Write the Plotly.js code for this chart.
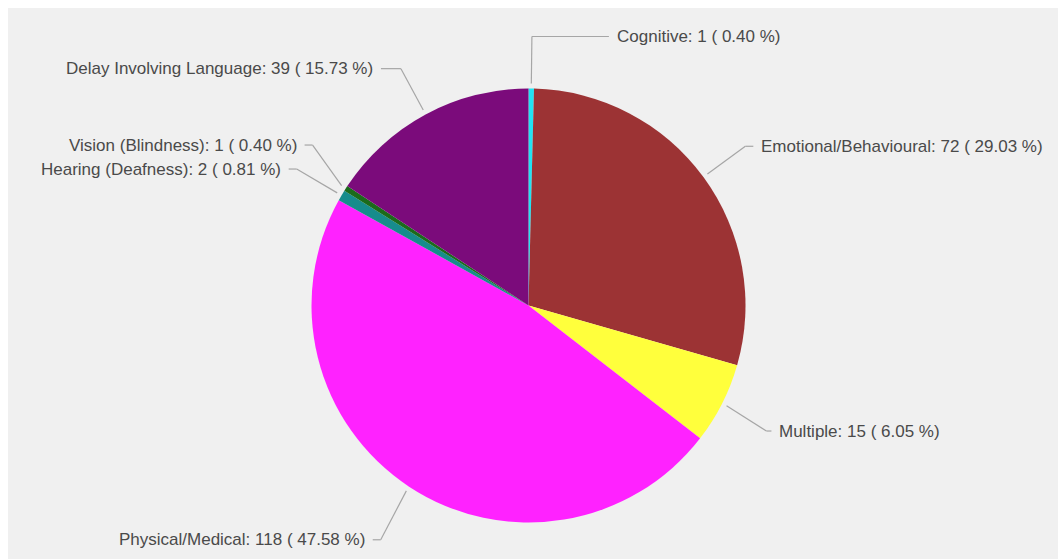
<!DOCTYPE html>
<html>
<head>
<meta charset="utf-8">
<script src="https://cdn.plot.ly/plotly-3.0.1.min.js"></script>
<style>
  html, body { margin: 0; padding: 0; background: #ffffff; }
  #chart { position: absolute; left: 8px; top: 8px; width: 1050px; height: 551px; }
</style>
</head>
<body>
<div id="chart"></div>
<script>
// ---- data ----
const categories = [
  "Cognitive",
  "Emotional/Behavioural",
  "Multiple",
  "Physical/Medical",
  "Hearing (Deafness)",
  "Vision (Blindness)",
  "Delay Involving Language"
];
const values = [1, 72, 15, 118, 2, 1, 39];
const sliceColors = ["#22e3f2", "#9c3334", "#ffff3c", "#ff22ff", "#178c8c", "#1b6b1b", "#7b0b7b"];

// ---- layout config (label leader lines) ----
const W = 1050, H = 551;
const CX = 520.5, CY = 297.5, R = 217;   // pie centre / radius in div pixels
const stubLen = { "Cognitive": 77, "Delay Involving Language": 20, "Multiple": 5 };
const yShift = { "Physical/Medical": 3, "Multiple": 4 };
const elbowR = { "Physical/Medical": 277 };
const defaultStub = 8, textGap = 6, rStart = R + 5, rElbow = 269, minGap = 24;

const total = values.reduce((a, b) => a + b, 0);
const px = x => x / W;
const py = y => 1 - y / H;

// compute label geometry from data
let cum = 0;
const labels = values.map((v, i) => {
  const mid = (cum + v / 2) / total * 2 * Math.PI;
  cum += v;
  const s = Math.sin(mid), c = Math.cos(mid);
  const pct = (v / total * 100).toFixed(2);
  const side = s >= 0 ? 1 : -1;
  const re = elbowR[categories[i]] || rElbow;
  return {
    i, side, re,
    x0: CX + rStart * s, y0: CY - rStart * c,
    ey: CY - re * c + (yShift[categories[i]] || 0),
    text: categories[i] + ": " + v + " ( " + pct + " %)"
  };
});

// resolve overlaps
const left = labels.filter(l => l.side < 0).sort((a, b) => b.ey - a.ey);
for (let k = 1; k < left.length; k++) {
  if (left[k].ey > left[k - 1].ey - minGap) left[k].ey = left[k - 1].ey - minGap;
}
const right = labels.filter(l => l.side > 0).sort((a, b) => a.ey - b.ey);
for (let k = 1; k < right.length; k++) {
  if (right[k].ey < right[k - 1].ey + minGap) right[k].ey = right[k - 1].ey + minGap;
}

const shapes = [];
const annotations = [];
labels.forEach(l => {
  const dy = l.ey - CY;
  const ex = CX + l.side * Math.sqrt(Math.max(l.re * l.re - dy * dy, 0));
  const stub = stubLen[categories[l.i]] || defaultStub;
  const sx = ex + l.side * stub;
  const lineStyle = { color: "#a6a6a6", width: 1.2 };
  shapes.push({ type: "line", xref: "paper", yref: "paper",
    x0: px(l.x0), y0: py(l.y0), x1: px(ex), y1: py(l.ey), line: lineStyle });
  shapes.push({ type: "line", xref: "paper", yref: "paper",
    x0: px(ex), y0: py(l.ey), x1: px(sx), y1: py(l.ey), line: lineStyle });
  annotations.push({
    xref: "paper", yref: "paper",
    x: px(sx + l.side * textGap), y: py(l.ey),
    xanchor: l.side > 0 ? "left" : "right", yanchor: "middle",
    text: l.text, showarrow: false,
    font: { family: "Liberation Sans, Arial, sans-serif", size: 17, color: "#4a4a4a" }
  });
});

const trace = {
  type: "pie",
  labels: categories,
  values: values,
  sort: false,
  direction: "clockwise",
  rotation: 0,
  textinfo: "none",
  hoverinfo: "label+value+percent",
  marker: { colors: sliceColors, line: { width: 0 } },
  domain: { x: [px(CX - R), px(CX + R)], y: [py(CY + R), py(CY - R)] },
  showlegend: false
};

const layout = {
  width: W, height: H,
  margin: { l: 0, r: 0, t: 0, b: 0 },
  paper_bgcolor: "#f0f0f0",
  plot_bgcolor: "#f0f0f0",
  showlegend: false,
  shapes: shapes,
  annotations: annotations
};

Plotly.newPlot("chart", [trace], layout, { displayModeBar: false, staticPlot: true });
</script>
</body>
</html>
